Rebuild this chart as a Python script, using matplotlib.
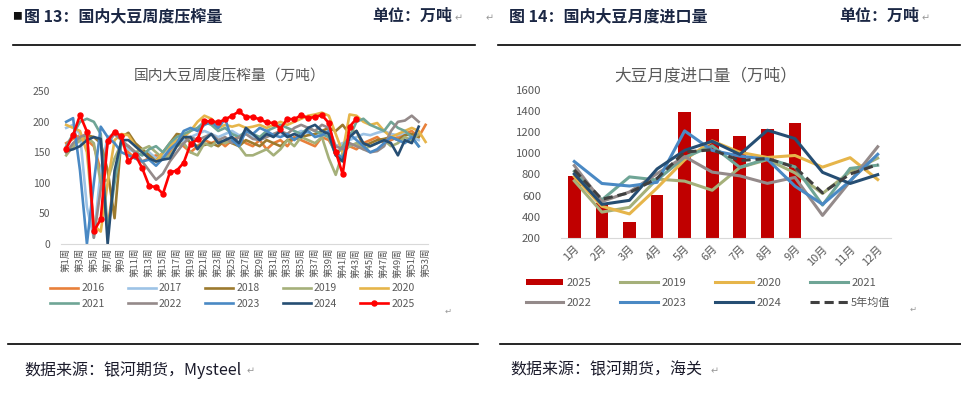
import numpy as np
import matplotlib
matplotlib.use("Agg")
import matplotlib.pyplot as plt
from matplotlib.patches import Patch
from matplotlib.lines import Line2D

plt.rcParams['font.family'] = ['Noto Sans CJK SC', 'DejaVu Sans']

W, H = 962, 393

# ---- 图13 国内大豆周度压榨量 (万吨) ----
weeks = list(range(1, 54))
week_labels = [f"第{w}周" for w in weeks]

s2016 = [165, 172, 178, 170, 160, 120, 25, 110, 170, 150, 140, 135, 140, 145, 140, 150, 165, 160, 150, 160,
         170, 165, 170, 160, 170, 175, 165, 160, 170, 155, 165, 170, 160, 175, 170, 165, 160, 175, 170, 150,
         155, 160, 155, 165, 170, 175, 165, 170, 175, 180, 185, 175, 195]
s2017 = [190, 195, 180, 60, 10, 120, 175, 180, 170, 155, 150, 145, 150, 140, 145, 155, 165, 170, 175, 180,
         185, 180, 175, 180, 185, 178, 180, 175, 170, 178, 180, 182, 175, 180, 185, 182, 178, 180, 175, 160,
         165, 170, 175, 180, 178, 182, 185, 180, 178, 182, 175, 170, None]
s2018 = [150, 160, 170, 178, 175, 165, 120, 42, 175, 182, 165, 155, 145, 135, 150, 165, 180, 178, 165, 160,
         162, 165, 160, 170, 165, 160, 170, 165, 160, 170, 165, 160, 170, 172, 175, 178, 180, 185, 190, 185,
         195, 180, 185, 160, 165, 170, 172, 175, 170, 178, 180, 175, None]
s2019 = [145, 160, 170, 175, 165, 100, 105, 140, 165, 160, 150, 155, 160, 150, 140, 145, 160, 165, 150, 145,
         165, 160, 170, 165, 170, 160, 145, 145, 150, 155, 145, 155, 170, 160, 175, 170, 165, 175, 140, 113,
         150, 160, 165, 155, 160, 165, 170, 160, 165, 175, 170, 180, None]
s2020 = [195, 190, 185, 150, 30, 20, 100, 170, 180, 178, 160, 150, 140, 135, 150, 160, 170, 175, 185, 200,
         210, 205, 190, 195, 192, 195, 190, 192, 195, 190, 195, 200, 195, 200, 205, 210, 212, 215, 210, 180,
         150, 212, 210, 200, 195, 198, 185, 175, 180, 185, 190, 185, 167]
s2021 = [160, 180, 200, 205, 200, 180, 20, 100, 165, 160, 150, 145, 155, 160, 150, 165, 175, 180, 185, 190,
         200, 195, 185, 190, 180, 175, 185, 180, 175, 185, 190, 195, 190, 185, 180, 190, 185, 180, 175, 145,
         160, 175, 200, 205, 195, 190, 185, 200, 190, 185, 175, 160, None]
s2022 = [150, 165, 175, 180, 10, 90, 165, 180, 170, 160, 150, 135, 120, 105, 115, 135, 150, 165, 175, 170,
         175, 180, 170, 175, 165, 175, 180, 172, 170, 175, 180, 185, 180, 190, 195, 190, 185, 195, 190, 160,
         155, 165, 160, 155, 150, 152, 160, 185, 200, 202, 210, 200, None]
s2023 = [200, 206, 120, 0, 100, 192, 175, 165, 150, 145, 140, 135, 138, 128, 140, 155, 165, 185, 190, 185,
         195, 200, 190, 205, 170, 160, 185, 180, 190, 185, 178, 175, 180, 170, 180, 185, 175, 178, 185, 150,
         140, 180, 170, 160, 150, 155, 165, 175, 170, 165, 175, 160, None]
s2024 = [152, 155, 160, 170, 175, 172, 0, 120, 170, 170, 160, 150, 140, 135, 138, 140, 160, 175, 175, 155,
         170, 180, 165, 170, 175, 165, 190, 180, 170, 180, 175, 185, 175, 180, 175, 190, 195, 185, 180, 145,
         135, 175, 185, 165, 160, 165, 170, 165, 145, 170, 165, 192, None]
s2025 = [156, 178, 211, 184, 21, 40, 169, 184, 176, 135, 146, 124, 95, 93, 82, 117, 120, 133, 164, 171,
         201, 201, 199, 204, 210, 217, 208, 208, 204, 199, 198, 189, 205, 204, 211, 206, 208, 211, 198, 151,
         114, 192, 205] + [None] * 10

# ---- 图14 大豆月度进口量 (万吨) ----
months = [f"{m}月" for m in range(1, 13)]
imp2025 = [785, 530, 350, 608, 1392, 1226, 1167, 1228, 1287]
imp2019 = [740, 445, 490, 757, 737, 651, 865, 940, 815, 620, 826, 954]
imp2020 = [780, 500, 428, 672, 938, 1116, 1009, 960, 979, 869, 958, 752]
imp2021 = [830, 560, 777, 748, 961, 1070, 867, 949, 872, 511, 857, 887]
imp2022 = [884, 545, 635, 808, 968, 822, 787, 716, 772, 414, 735, 1061]
imp2023 = [922, 715, 691, 726, 1211, 1027, 973, 943, 690, 518, 740, 990]
imp2024 = [804, 518, 556, 852, 1027, 1113, 989, 1217, 1138, 820, 715, 798]
avg5 = [842, 566, 628, 763, 1011, 1033, 931, 950, 868, 627, 804, 893]

c_ = {
    '2016': '#E8803A', '2017': '#9DC3E6', '2018': '#9C7A2E', '2019': '#A5B07A',
    '2020': '#E6B54A', '2021': '#6FA596', '2022': '#948A8A', '2023': '#4A89C4',
    '2024': '#264E73', '2025': '#FF0000',
}
GREY = '#595959'


def fx(x):
    return x / W


def fy(y):
    return 1 - y / H


fig = plt.figure(figsize=(W / 100, H / 100), dpi=100)

# 页眉、页脚
hdr = dict(fontsize=11.5, fontweight='bold', color='#1B2744', va='center')
fig.text(fx(12), fy(16), "■", fontsize=7, color='#111111', va='center')
fig.text(fx(24), fy(16), "图 13：国内大豆周度压榨量", **hdr)
fig.text(fx(372), fy(16), "单位：万吨", **hdr)
fig.text(fx(455), fy(18), "↵", fontsize=7, color='#999999', va='center')
fig.text(fx(486), fy(18), "↵", fontsize=7, color='#999999', va='center')
fig.text(fx(509), fy(16), "图 14：国内大豆月度进口量", **hdr)
fig.text(fx(839), fy(16), "单位：万吨", **hdr)
fig.text(fx(922), fy(18), "↵", fontsize=7, color='#999999', va='center')

for x0, x1, y in [(13, 475, 45), (498, 960, 45), (8, 478, 344), (500, 962, 344)]:
    fig.add_artist(Line2D([fx(x0), fx(x1)], [fy(y), fy(y)], color='black', lw=1.2))

src = dict(fontsize=11.5, color='#1B1B2B', va='center')
fig.text(fx(24), fy(370), "数据来源：银河期货，Mysteel", **src)
fig.text(fx(247), fy(371), "↵", fontsize=7, color='#999999', va='center')
fig.text(fx(510), fy(370), "数据来源：银河期货，海关", **src)
fig.text(fx(711), fy(371), "↵", fontsize=7, color='#999999', va='center')
fig.text(fx(445), fy(311), "↵", fontsize=6, color='#999999', va='center')
fig.text(fx(910), fy(309), "↵", fontsize=6, color='#999999', va='center')

# ---- 左图 ----
ax1 = fig.add_axes([fx(61), fy(243.8), fx(428 - 61), (243.8 - 91.3) / H])
series = [('2016', s2016), ('2017', s2017), ('2018', s2018), ('2019', s2019), ('2020', s2020),
          ('2021', s2021), ('2022', s2022), ('2023', s2023), ('2024', s2024)]
handles = {}
for name, vals in series:
    y = np.array(vals, dtype=float)
    handles[name], = ax1.plot(weeks, y, color=c_[name], lw=1.9, label=name, solid_joinstyle='round')
y = np.array(s2025, dtype=float)
handles['2025'], = ax1.plot(weeks, y, color=c_['2025'], lw=1.9, marker='o', markersize=3.6, label='2025')

ax1.set_ylim(0, 250)
ax1.set_xlim(0.25, 53.35)
ax1.set_yticks(range(0, 251, 50))
ax1.set_xticks(weeks[::2])
ax1.set_xticklabels(week_labels[::2], rotation=90, fontsize=6.8, color=GREY)
ax1.tick_params(axis='y', labelsize=7.5, labelcolor=GREY, length=0, pad=8)
ax1.tick_params(axis='x', length=0, pad=3)
for s in ['top', 'right', 'left']:
    ax1.spines[s].set_visible(False)
ax1.spines['bottom'].set_color('#D9D9D9')
fig.text(fx(230), fy(76), "国内大豆周度压榨量（万吨）", fontsize=10.6, color=GREY, ha='center', va='center')

order1 = ['2016', '2021', '2017', '2022', '2018', '2023', '2019', '2024', '2020', '2025']
fig.legend([handles[k] for k in order1], order1, loc='upper left', bbox_to_anchor=(fx(45), fy(278)),
           ncol=5, frameon=False, fontsize=7.5, labelcolor=GREY, handlelength=2.7, handletextpad=0.3,
           columnspacing=2.2, labelspacing=0.55, borderpad=0)

# ---- 右图 ----
ax2 = fig.add_axes([fx(560.5), fy(238.1), fx(891.5 - 560.5), (238.1 - 89.6) / H])
xm = np.arange(1, 13)
ax2.bar(xm[:len(imp2025)], np.array(imp2025) - 200, bottom=200, width=0.46, color='#C00000', zorder=1)
lines2 = {}
for name, vals in [('2019', imp2019), ('2020', imp2020), ('2021', imp2021), ('2022', imp2022),
                   ('2023', imp2023), ('2024', imp2024)]:
    lines2[name], = ax2.plot(xm, vals, color=c_[name], lw=2.2, zorder=2)
lines2['5年均值'], = ax2.plot(xm, avg5, color='#404040', lw=2.2, ls=(0, (3, 1.6)), zorder=3)
lines2['2025'] = Patch(facecolor='#C00000')

ax2.set_ylim(200, 1600)
ax2.set_xlim(0.5, 12.5)
ax2.set_yticks(range(200, 1601, 200))
ax2.set_xticks(xm)
ax2.set_xticklabels(months, rotation=45, ha='right', va='top', rotation_mode='anchor',
                    fontsize=8, color=GREY)
ax2.tick_params(axis='y', labelsize=8.2, labelcolor=GREY, length=0, pad=14)
ax2.tick_params(axis='x', length=0, pad=4)
for s in ['top', 'right', 'left']:
    ax2.spines[s].set_visible(False)
ax2.spines['bottom'].set_color('#D9D9D9')
fig.text(fx(706), fy(76), "大豆月度进口量（万吨）", fontsize=12, color=GREY, ha='center', va='center')

order2 = ['2025', '2022', '2019', '2023', '2020', '2024', '2021', '5年均值']
fig.legend([lines2[k] for k in order2], order2, loc='upper left', bbox_to_anchor=(fx(520), fy(272)),
           ncol=4, frameon=False, fontsize=8, labelcolor=GREY, handlelength=3.4, handleheight=0.45,
           handletextpad=0.3, columnspacing=2.6, labelspacing=0.9, borderpad=0)

fig.savefig("out.png", dpi=100)
